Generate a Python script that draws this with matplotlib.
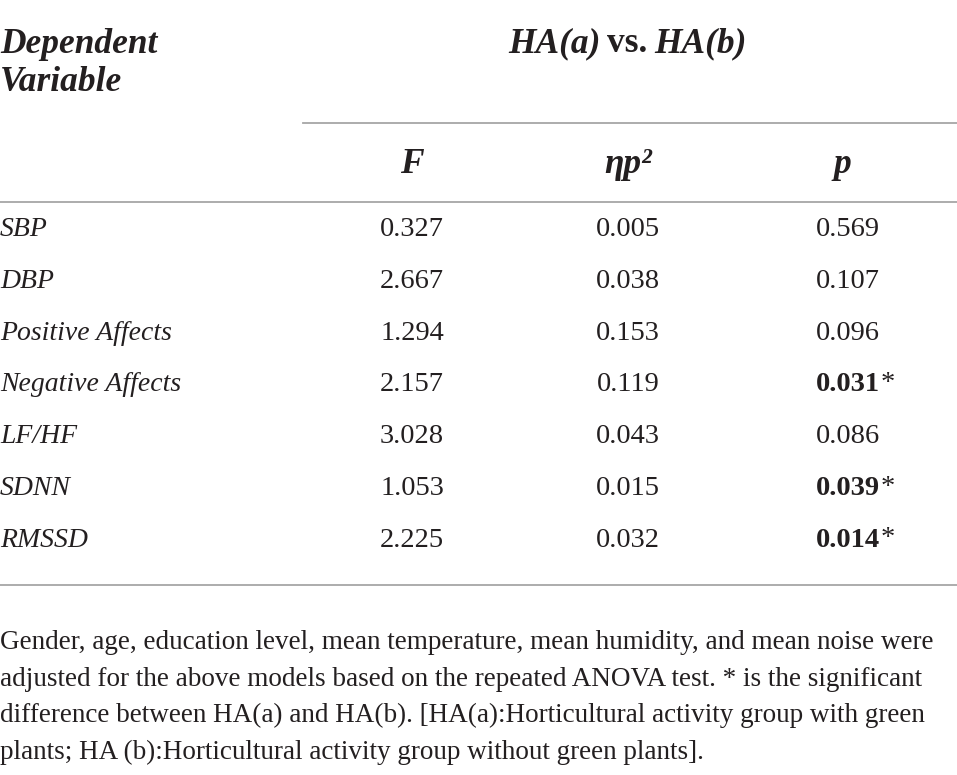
import matplotlib
matplotlib.use('Agg')
import matplotlib.pyplot as plt

# table data
variables = ['SBP', 'DBP', 'Positive Affects', 'Negative Affects', 'LF/HF', 'SDNN', 'RMSSD']
F_vals = [0.327, 2.667, 1.294, 2.157, 3.028, 1.053, 2.225]
eta_vals = [0.005, 0.038, 0.153, 0.119, 0.043, 0.015, 0.032]
p_vals = [0.569, 0.107, 0.096, 0.031, 0.086, 0.039, 0.014]
col_heads = ['F', 'ηp²', 'p']
group_head = ['HA(a)', 'vs.', 'HA(b)']
row_head = ['Dependent', 'Variable']
note_lines = [
    'Gender, age, education level, mean temperature, mean humidity, and mean noise were',
    'adjusted for the above models based on the repeated ANOVA test. * is the significant',
    'difference between HA(a) and HA(b). [HA(a):Horticultural activity group with green',
    'plants; HA (b):Horticultural activity group without green plants].',
]

plt.rcParams['font.family'] = ['Liberation Serif', 'DejaVu Serif']
txt = '#231f20'
rule = '#a6a6a6'
hsize, lsize, nsize, fsize = 25.5, 20, 20.5, 19.5

fig = plt.figure(figsize=(9.57, 7.75), dpi=100)
ax = fig.add_axes([0, 0, 1, 1])
ax.set_xlim(0, 957)
ax.set_ylim(775, 0)
ax.axis('off')

# header
ax.text(0, 53, row_head[0], fontsize=hsize, style='italic', weight='bold', color=txt, va='baseline')
ax.text(0, 91, row_head[1], fontsize=hsize, style='italic', weight='bold', color=txt, va='baseline')
# "HA(a) vs. HA(b)" - vs. is upright
t1 = ax.text(508, 52, group_head[0], fontsize=hsize, style='italic', weight='bold', color=txt, va='baseline')
t2 = ax.annotate(group_head[1], xy=(1, 0), xycoords=t1, xytext=(5, 0), textcoords='offset points',
                 fontsize=hsize, weight='bold', color=txt, va='bottom')
ax.annotate(group_head[2], xy=(1, 0), xycoords=t2, xytext=(5, 0), textcoords='offset points',
            fontsize=hsize, style='italic', weight='bold', color=txt, va='bottom')
ax.plot([303, 957], [123, 123], color=rule, lw=1.3)

col_x = [412, 628, 842]
for x, h in zip(col_x, col_heads):
    ax.text(x, 173, h, fontsize=hsize, style='italic', weight='bold', color=txt, va='baseline', ha='center')
ax.plot([0, 957], [202, 202], color=rule, lw=1.3)

# body rows
for i, v in enumerate(variables):
    y = 236 + 51.8 * i
    ax.text(0, y, v, fontsize=lsize, style='italic', color=txt, va='baseline')
    ax.text(col_x[0], y, f'{F_vals[i]:.3f}', fontsize=nsize, color=txt, va='baseline', ha='center')
    ax.text(col_x[1], y, f'{eta_vals[i]:.3f}', fontsize=nsize, color=txt, va='baseline', ha='center')
    if p_vals[i] < 0.05:
        t = ax.text(816, y, f'{p_vals[i]:.3f}', fontsize=nsize, weight='bold', color=txt, va='baseline')
        ax.annotate('*', xy=(1, 0), xycoords=t, xytext=(0.5, 1), textcoords='offset points',
                    fontsize=nsize, color=txt, va='bottom', ha='left')
    else:
        ax.text(816, y, f'{p_vals[i]:.3f}', fontsize=nsize, color=txt, va='baseline')
ax.plot([0, 957], [585, 585], color=rule, lw=1.3)

# footnote
for i, line in enumerate(note_lines):
    ax.text(0, 649 + 36.7 * i, line, fontsize=fsize, color=txt, va='baseline')

fig.savefig('out.png', dpi=100)
